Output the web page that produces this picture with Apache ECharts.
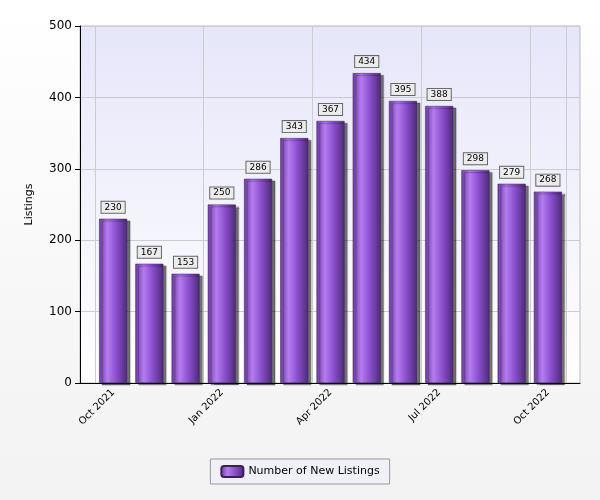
<!DOCTYPE html>
<html><head><meta charset="utf-8">
<script src="https://cdn.jsdelivr.net/npm/echarts@6/dist/echarts.min.js"></script>
<style>html,body{margin:0;padding:0;background:#fff}#c{width:600px;height:500px}</style>
</head><body><div id="c"></div>
<script>
const categories = ['Oct 2021','Nov 2021','Dec 2021','Jan 2022','Feb 2022','Mar 2022','Apr 2022','May 2022','Jun 2022','Jul 2022','Aug 2022','Sep 2022','Oct 2022'];
const values = [230,167,153,250,286,343,367,434,395,388,298,279,268];
const seriesName = 'Number of New Listings';
const chart = echarts.init(document.getElementById('c'));
const barGrad = new echarts.graphic.LinearGradient(0,0,1,0,[
  {offset:0,color:'#6a3a9e'},{offset:0.3,color:'#b57cf0'},{offset:0.6,color:'#8c50d0'},{offset:1,color:'#4e2a78'}]);
const font = 'DejaVu Sans';
chart.setOption({
  backgroundColor: new echarts.graphic.LinearGradient(0,0,0,1,[{offset:0,color:'#ffffff'},{offset:1,color:'#f2f2f2'}]),
  animation:false,
  grid:[
    {left:80,right:20,top:26,bottom:117,show:true,borderColor:'#bbb',
     backgroundColor:new echarts.graphic.LinearGradient(0,0,0,1,[{offset:0,color:'#e6e6fa'},{offset:1,color:'#ffffff'}])},
    {left:95,right:34,top:26,bottom:117}
  ],
  legend:{bottom:16,left:'center',data:[seriesName],itemWidth:22,itemHeight:11,
    backgroundColor:'#f0f0f8',borderColor:'#999',borderWidth:1,padding:[6,10],borderRadius:0,
    textStyle:{fontFamily:font,fontSize:11,color:'#000'}},
  xAxis:[
    {type:'value',gridIndex:0,min:0,max:1,axisLine:{show:true,onZero:false,lineStyle:{color:'#000'}},
     axisTick:{show:false},axisLabel:{show:false},splitLine:{show:false}},
    {type:'category',gridIndex:1,data:categories,
     axisLine:{show:false},
     axisTick:{alignWithLabel:true,interval:2,lineStyle:{color:'#000'}},
     axisLabel:{interval:2,rotate:45,fontFamily:font,fontSize:10,color:'#000'},
     splitLine:{show:true,interval:2,lineStyle:{color:'#ccc'}}}
  ],
  yAxis:[
    {type:'value',gridIndex:0,min:0,max:500,interval:100,name:'Listings',nameLocation:'middle',nameGap:45,
     nameTextStyle:{fontFamily:font,fontSize:11,color:'#000'},
     axisLine:{show:true,lineStyle:{color:'#000'}},axisTick:{show:true},
     axisLabel:{fontFamily:font,fontSize:12,color:'#000'},
     splitLine:{lineStyle:{color:'#ccc'}}},
    {type:'value',gridIndex:1,min:0,max:500,interval:100,show:false}
  ],
  series:[{name:seriesName,type:'bar',xAxisIndex:1,yAxisIndex:1,data:values,barWidth:28,
    itemStyle:{color:barGrad,borderColor:'#3a1e5a',borderWidth:0.5,shadowColor:'rgba(0,0,0,0.55)',shadowOffsetX:3,shadowOffsetY:2,shadowBlur:1},
    label:{show:true,position:'top',distance:6,fontFamily:font,fontSize:9,color:'#000',
      backgroundColor:'#ececec',borderColor:'#666',borderWidth:1,padding:[1,3]}}],
  color:['#9b3fe0']
});
</script></body></html>
